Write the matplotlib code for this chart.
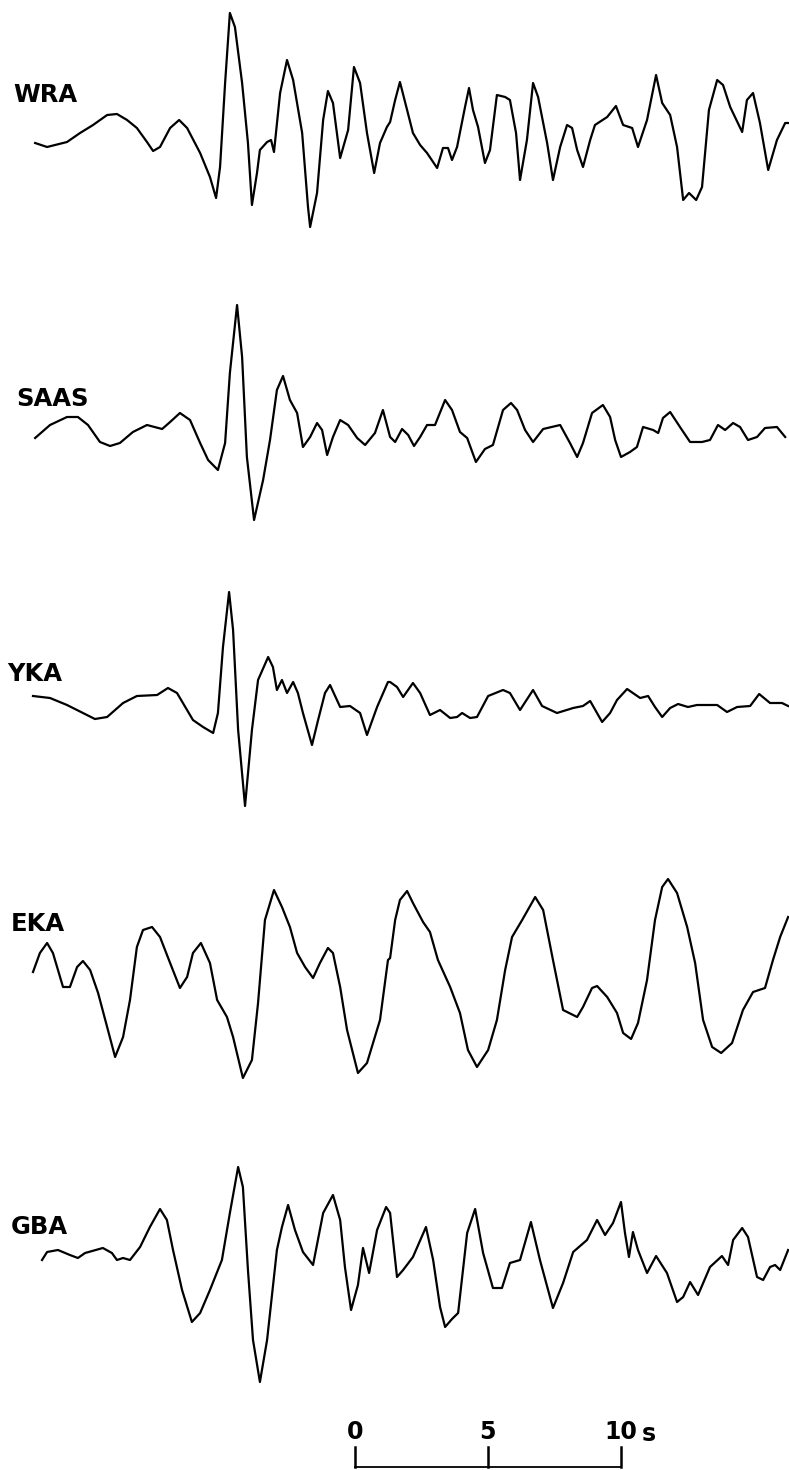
import matplotlib
matplotlib.use('Agg')
import matplotlib.pyplot as plt

plt.rcParams['font.family'] = ['DejaVu Sans']
plt.rcParams['font.weight'] = 'bold'

# station names, top to bottom
stations = ['WRA', 'SAAS', 'YKA', 'EKA', 'GBA']

# traces: time (s from start of window), amplitude (arbitrary units, up = +)
wra_t = [0.08, 0.53, 1.28, 1.77, 2.26, 2.79, 3.16, 3.54, 3.91, 4.29, 4.52, 4.78, 5.16, 5.50, 5.80, 6.29,
         6.66, 6.89, 7.04, 7.23, 7.41, 7.60, 7.87, 8.09, 8.24, 8.43, 8.54, 8.81, 8.96, 9.07, 9.30, 9.56,
         9.79, 10.13, 10.35, 10.43, 10.69, 10.92, 11.10, 11.29, 11.56, 11.86, 12.08, 12.31, 12.57, 12.84,
         13.06, 13.32,
         13.44, 13.63, 13.81, 14.08, 14.30, 14.57, 14.83, 15.21, 15.43, 15.62, 15.77, 15.96, 16.26, 16.41,
         16.56, 16.75, 17.01, 17.20, 17.46, 17.77, 17.95, 18.18, 18.33, 18.59, 18.82, 19.01, 19.35, 19.57,
         19.84, 20.10, 20.29, 20.48, 20.70, 20.97, 21.15, 21.61, 21.94, 22.21, 22.55, 22.77, 23.11, 23.45,
         23.68, 23.98, 24.24, 24.47, 24.69, 24.96, 25.18, 25.44, 25.75, 25.97, 26.24, 26.69, 26.87, 27.10,
         27.36, 27.67, 28.00, 28.31, 28.42]
wra_amp = [-3, -7, -2, 7, 15, 25, 26, 20, 12, -2, -11, -7, 12, 20, 12, -13,
           -37, -58, -27, 57, 127, 113, 57, -3, -65, -33, -10, -2, 0, -12, 47, 80,
           60, 7, -67, -87, -53, 20, 49, 37, -18, 10, 73, 57, 7, -33,
           -3, 13,
           18, 40, 58, 30, 7, -5, -13, -28, -8, -8, -20, -7, 33, 52,
           30, 13, -23, -10, 45, 43, 40, 7, -40, 0, 57, 43, -3, -40,
           -7, 15, 12, -10, -27, 0, 15, 23, 34, 15, 12, -7, 20, 65,
           37, 25, -7, -60, -53, -60, -47, 30, 60, 55, 33, 8, 40, 47,
           17, -30, 0, 17, 17]

saas_t = [0.08, 0.64, 1.28, 1.69, 2.07, 2.52, 2.90, 3.27, 3.76, 4.29, 4.86, 5.16, 5.53, 5.91, 6.29, 6.59,
          6.96, 7.23, 7.41, 7.68, 7.87, 8.05, 8.32, 8.66, 8.92, 9.18, 9.41, 9.67, 9.94, 10.16, 10.43, 10.69,
          10.88, 11.07, 11.29, 11.56, 11.86, 12.20, 12.50, 12.87, 13.17,
          13.44, 13.63, 13.89, 14.12, 14.34, 14.57, 14.83, 15.13, 15.51, 15.77, 16.07, 16.34, 16.67, 17.01,
          17.31, 17.69, 17.99, 18.22, 18.52, 18.82, 19.20, 19.84, 20.21, 20.48, 20.70, 21.04, 21.45, 21.72,
          21.91, 22.13, 22.47, 22.73, 22.96, 23.34, 23.53, 23.71, 23.98, 24.35, 24.73, 25.18, 25.48, 25.78,
          26.05, 26.35, 26.61, 26.91, 27.25, 27.55, 28.00, 28.31]
saas_amp = [-8, 5, 13, 13, 5, -12, -16, -13, -2, 5, 1, 8, 17, 10, -13, -30,
            -40, -13, 57, 125, 73, -27, -90, -50, -10, 40, 54, 30, 17, -17, -7, 7,
            0, -25, -7, 10, 5, -8, -15, -3, 20,
            -7, -12, 1, -5, -16, -7, 5, 5, 30, 20, -2, -8, -32, -19,
            -15, 20, 27, 20, 0, -12, 1, 5, -13, -27, -13, 17, 25, 13,
            -10, -27, -22, -17, 3, 0, -3, 12, 18, 3, -12, -12, -10, 5,
            0, 7, 3, -10, -7, 2, 3, -7]

yka_t = [0.00, 0.64, 1.28, 2.33, 2.79, 3.39, 3.91, 4.67, 5.08, 5.42, 6.02, 6.40, 6.78, 6.96, 7.15, 7.38,
         7.53, 7.72, 7.98, 8.24, 8.47, 8.85, 9.03, 9.18, 9.37, 9.56, 9.79, 9.97, 10.16, 10.50, 10.73, 10.99,
         11.18, 11.56, 11.93, 12.31, 12.57, 12.95, 13.36,
         13.44, 13.70, 13.93, 14.30, 14.57, 14.94, 15.32, 15.70, 15.96, 16.15, 16.45, 16.71, 17.13, 17.69,
         17.95, 18.33, 18.82, 19.16, 19.72, 20.33, 20.70, 20.97, 21.42, 21.72, 21.98, 22.36, 22.85, 23.15,
         23.41, 23.68, 23.98, 24.28, 24.65, 24.99, 25.75, 26.12, 26.50, 26.99, 27.33, 27.74, 28.19, 28.42]
yka_amp = [9, 7, 0, -14, -12, 2, 9, 10, 17, 12, -15, -22, -28, -8, 58, 113,
           75, -25, -101, -25, 25, 48, 38, 15, 25, 12, 23, 12, -8, -40, -15, 12,
           20, -2, -1, -8, -30, -2, 23,
           23, 18, 8, 22, 12, -10, -5, -13, -12, -8, -13, -12, 9, 15,
           12, -5, 15, -1, -8, -3, -1, 4, -17, -8, 5, 16, 7, 9,
           -2, -12, -3, 1, -2, 0, 0, -7, -2, -1, 11, 2, 2, -1]

eka_t = [0.00, 0.26, 0.53, 0.75, 1.13, 1.39, 1.66, 1.88, 2.15, 2.45, 2.79, 3.09, 3.39, 3.65, 3.91, 4.14,
         4.48, 4.78, 5.16, 5.53, 5.80, 6.02, 6.32, 6.66, 6.93, 7.30, 7.53, 7.90, 8.24, 8.47, 8.73, 9.07,
         9.37, 9.67, 9.94, 10.24, 10.54, 10.80, 11.10, 11.29, 11.56, 11.82, 12.23, 12.57, 13.06, 13.36,
         13.44, 13.63, 13.81, 14.08, 14.30, 14.68, 14.94, 15.24, 15.70, 16.07, 16.37, 16.71, 17.13, 17.46,
         17.77, 18.03, 18.41, 18.90, 19.20, 19.57, 19.95, 20.48, 20.70, 21.04, 21.23, 21.61, 21.98, 22.21,
         22.51, 22.77, 23.11, 23.41, 23.68, 23.90, 24.24, 24.62, 24.92, 25.22, 25.56, 25.90, 26.31, 26.72,
         27.10, 27.55, 27.85, 28.12, 28.42]
eka_amp = [8, 27, 37, 27, -7, -7, 13, 19, 10, -13, -47, -77, -57, -20, 33, 50,
           53, 43, 17, -8, 3, 27, 37, 17, -20, -37, -57, -98, -80, -23, 60, 90,
           73, 53, 27, 13, 2, 17, 32, 27, -7, -50, -93, -83, -40, 20,
           22, 60, 80, 89, 77, 58, 48, 20, -7, -33, -70, -87, -70, -40,
           10, 43, 60, 83, 70, 20, -30, -37, -27, -8, -6, -17, -33, -53,
           -59, -43, 0, 60, 93, 101, 87, 53, 17, -40, -67, -73, -63, -30,
           -12, -8, 20, 43, 63]

gba_t = [0.34, 0.53, 0.94, 1.39, 1.69, 1.96, 2.63, 2.97, 3.16, 3.39, 3.65, 4.03, 4.40, 4.78, 5.04, 5.27,
         5.61, 5.98, 6.29, 6.66, 7.11, 7.41, 7.72, 7.90, 8.09, 8.28, 8.54, 8.81, 9.18, 9.37, 9.60, 9.86,
         10.16, 10.54, 10.92, 11.29, 11.56, 11.74, 11.97, 12.23, 12.42, 12.65, 12.95, 13.29,
         13.44, 13.70, 13.93, 14.30, 14.79, 15.06, 15.32, 15.51, 15.77, 16.00, 16.34, 16.64, 16.94, 17.31,
         17.65, 17.95, 18.33, 18.74, 19.08, 19.57, 19.95, 20.33, 20.85, 21.23, 21.53, 21.83, 22.13, 22.28,
         22.43, 22.58, 22.77, 23.11, 23.45, 23.86, 24.24, 24.47, 24.73, 25.03, 25.48, 25.93, 26.16, 26.35,
         26.69, 26.91, 27.25, 27.48, 27.74, 27.93, 28.12, 28.42]
gba_amp = [-2, 6, 8, 3, 0, 5, 10, 5, -2, 0, -2, 11, 31, 49, 38, 8,
           -32, -64, -55, -32, -2, 45, 91, 71, -12, -82, -124, -82, 8, 31, 53, 28,
           6, -7, 45, 63, 38, -9, -52, -27, 10, -15, 28, 51,
           45, -19, -12, 1, 31, -2, -49, -69, -61, -55, 25, 49, 5, -30,
           -30, -5, -2, 36, -2, -50, -25, 6, 18, 38, 23, 35, 56, 25,
           1, 26, 8, -15, 2, -15, -44, -39, -24, -37, -9, 2, -7, 18,
           30, 21, -19, -22, -9, -7, -12, 8]

# time scale bar
scale_ticks = [0, 5, 10]
scale_labels = ['0', '5', '10']
scale_unit = 's'

traces = [(wra_t, wra_amp), (saas_t, saas_amp), (yka_t, yka_amp), (eka_t, eka_amp), (gba_t, gba_amp)]

# layout (figure is 789 x 1470 px)
W, H = 789, 1470
px_per_s = 26.57
x0_px = 33                                  # where t = 0 sits
baselines = [140, 430, 705, 980, 1258]      # px from top
label_pos = [(13, 95), (16, 399), (7, 674), (11, 924), (11, 1227)]
bar_start = (355 - x0_px) / px_per_s
bar_y = 1467

fig = plt.figure(figsize=(W / 100, H / 100), dpi=100)
ax = fig.add_axes([0, 0, 1, 1])
ax.set_xlim(-x0_px / px_per_s, (W - x0_px) / px_per_s)
ax.set_ylim(H, 0)
ax.axis('off')

for (t, a), base in zip(traces, baselines):
    ax.plot(t, [base - v for v in a], color='black', lw=1.6, solid_joinstyle='round')

for name, (lx, ly) in zip(stations, label_pos):
    fig.text(lx / W, 1 - ly / H, name, fontsize=17.5, fontweight='bold', ha='left', va='center')

# scale bar
ax.plot([bar_start, bar_start + scale_ticks[-1]], [bar_y, bar_y], color='black', lw=1.3)
for tk, lab in zip(scale_ticks, scale_labels):
    ax.plot([bar_start + tk, bar_start + tk], [bar_y, bar_y - 20], color='black', lw=1.8)
    ax.text(bar_start + tk, 1432, lab, fontsize=17, fontweight='bold', ha='center', va='center')
ax.text(bar_start + scale_ticks[-1] + 1.05, 1434, scale_unit, fontsize=17, fontweight='bold',
        ha='center', va='center')

fig.savefig('out.png', dpi=100)
